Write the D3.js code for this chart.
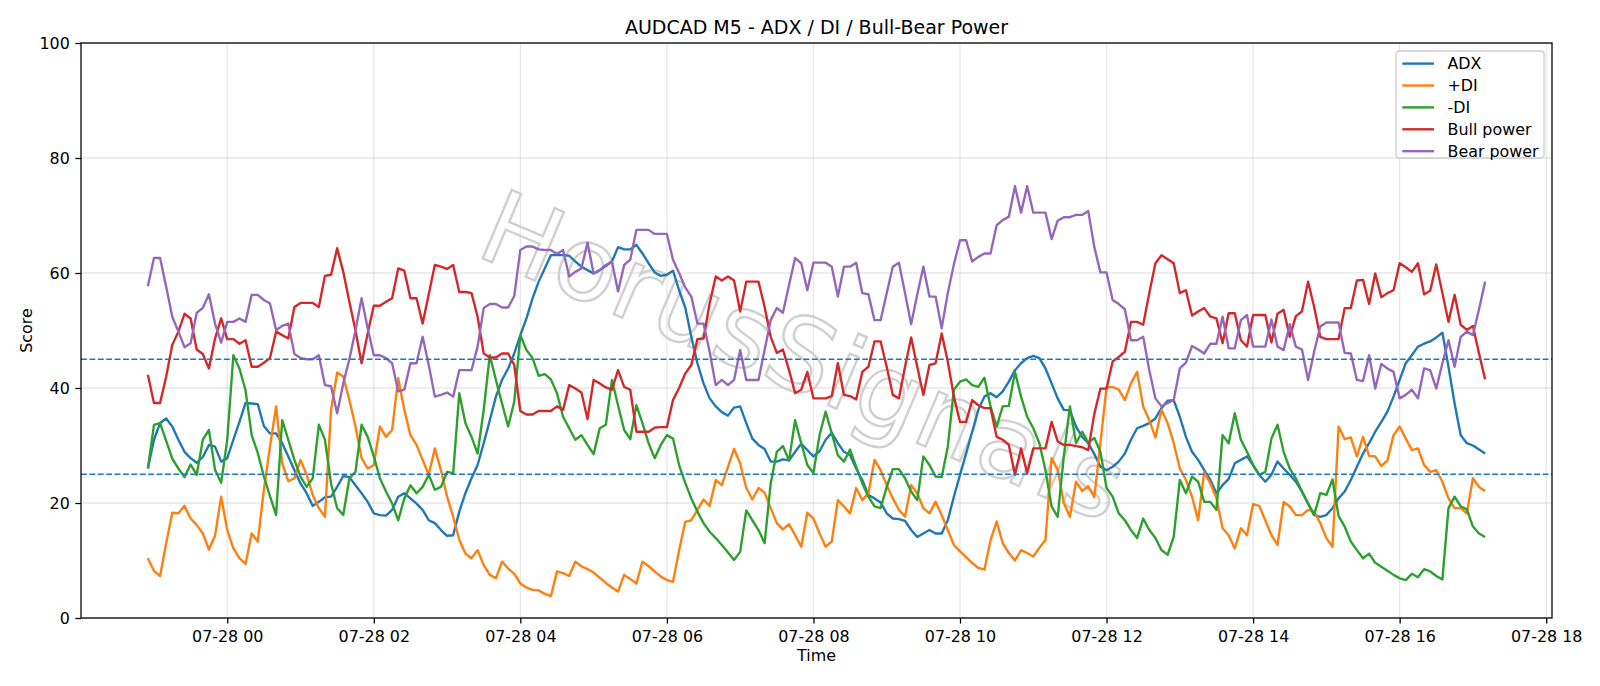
<!DOCTYPE html>
<html>
<head>
<meta charset="utf-8">
<script src="https://cdn.jsdelivr.net/npm/d3@7"></script>
<style>
  body { margin: 0; background: #fff; }
  svg { display: block; font-family: "DejaVu Sans", sans-serif; }
</style>
</head>
<body>
<div id="grafIndicadores"></div>
<script>
// datos (velas M5)
const inicio = "2025-07-27 22:55";
const pasoMinutos = 5;

const adx = [
  26.0, 31.0, 33.9, 34.7, 33.3, 31.0, 28.9, 27.8, 27.0, 28.0, 30.1, 29.8, 27.2, 27.8, 31.0, 34.1, 37.4, 37.3, 37.2, 33.4, 32.1, 32.1,
  30.4, 28.1, 25.7, 23.4, 21.7, 19.5, 20.2, 21.0, 21.1, 22.8, 24.7, 24.5, 23.1, 21.7, 20.2, 18.2, 17.9, 17.8, 18.8, 21.1, 21.7, 20.8,
  19.9, 18.8, 17.0, 16.5, 15.3, 14.3, 14.4, 18.5, 21.7, 24.3, 26.6, 30.4, 34.4, 38.5, 41.4, 43.4, 46.0, 49.2, 52.1, 55.6, 58.5, 60.8, 63.1,
  63.1, 63.1, 63.0, 62.0, 61.1, 60.5, 59.9, 60.5, 61.2, 62.0, 64.5, 64.1, 64.1, 64.9, 63.4, 61.7, 60.1, 59.5, 59.7, 60.4, 57.0, 54.0,
  48.9, 44.3, 40.8, 38.2, 36.8, 35.8, 35.2, 36.6, 36.8, 33.9, 31.2, 30.1, 29.4, 27.2, 27.2, 27.6, 27.4, 28.9, 30.3, 29.2, 28.1, 29.0,
  31.0, 32.2, 30.4, 28.9, 28.3, 26.0, 24.0, 21.4, 20.8, 20.1, 18.2, 17.3, 17.2, 16.9, 15.3, 14.1, 14.7, 15.3, 14.7, 14.7, 17.0, 21.1,
  24.9, 28.6, 32.4, 36.2, 38.5, 39.1, 38.4, 39.4, 41.1, 43.1, 44.3, 45.2, 45.6, 45.2, 43.4, 40.8, 38.2, 36.2, 36.1, 33.3, 31.5, 30.4, 28.5,
  26.3, 25.7, 26.3, 27.2, 28.6, 31.0, 33.0, 33.4, 33.9, 34.7, 36.5, 37.8, 37.9, 35.0, 31.5, 28.9, 27.5, 25.7, 24.0, 21.7, 23.1, 24.2,
  26.9, 27.5, 28.1, 26.6, 24.9, 23.7, 24.9, 27.2, 26.0, 24.9, 23.7, 22.0, 19.9, 17.9, 17.6, 17.9, 19.1, 20.8, 22.0, 24.0, 26.3, 28.6,
  30.4, 32.4, 34.1, 35.9, 38.5, 41.4, 44.3, 45.7, 47.2, 47.7, 48.1, 48.8, 49.6, 43.7, 37.3, 31.8, 30.4, 30.0, 29.3, 28.6
];

const diPlus = [
  10.4, 8.2, 7.3, 13.0, 18.3, 18.2, 19.5, 17.3, 16.2, 14.7, 11.9, 14.3, 21.1, 15.3, 12.1, 10.4, 9.4, 14.7, 13.3, 22.3, 29.8, 36.8,
  26.9, 23.8, 24.3, 27.5, 24.9, 21.4, 19.1, 17.6, 36.2, 42.7, 42.0, 37.9, 33.3, 27.8, 26.0, 26.6, 33.3, 31.5, 32.7, 41.7, 36.2, 31.8,
  30.1, 27.5, 24.9, 29.5, 25.7, 21.1, 17.6, 13.6, 11.2, 10.4, 11.8, 9.2, 7.5, 6.9, 9.8, 8.6, 7.7, 6.0, 5.3, 4.9, 4.8, 4.2, 3.8,
  8.1, 7.8, 7.3, 9.8, 9.0, 8.5, 7.9, 7.0, 6.1, 5.3, 4.6, 7.5, 6.8, 6.0, 9.8, 9.0, 8.1, 7.2, 6.6, 6.3, 11.8, 16.7,
  17.0, 18.8, 20.6, 19.5, 24.0, 23.1, 26.3, 29.4, 26.9, 22.6, 20.6, 22.6, 21.8, 19.1, 16.5, 15.4, 16.3, 14.4, 12.4, 18.3, 17.3, 14.7,
  12.4, 13.3, 20.5, 19.4, 18.2, 22.6, 20.5, 21.7, 27.5, 25.7, 23.1, 20.8, 18.8, 17.6, 23.1, 21.7, 19.1, 18.2, 20.2, 17.9, 15.3, 12.7,
  11.6, 10.6, 9.6, 8.7, 8.4, 13.5, 16.8, 13.0, 11.3, 10.0, 11.8, 11.3, 10.7, 12.2, 13.6, 27.8, 25.8, 20.0, 17.6, 23.7, 22.1, 22.9, 21.0,
  30.5, 40.1, 40.2, 39.7, 37.9, 40.8, 42.8, 36.8, 34.4, 31.4, 36.2, 33.9, 30.4, 26.0, 24.0, 21.1, 17.0, 25.4, 23.4, 20.8, 15.6, 14.4,
  12.1, 15.6, 14.4, 19.8, 19.5, 17.0, 14.4, 12.7, 20.2, 19.4, 17.9, 17.9, 18.8, 18.5, 16.5, 13.9, 12.4, 33.3, 31.1, 31.4, 28.1, 31.5,
  28.2, 28.1, 26.4, 27.4, 31.8, 33.3, 31.2, 29.2, 29.5, 26.6, 25.4, 25.7, 23.7, 20.8, 19.1, 19.1, 18.2, 24.3, 22.8, 22.1
];

const diMinus = [
  26.0, 33.6, 33.9, 30.8, 27.7, 26.0, 24.5, 26.7, 24.9, 31.0, 32.7, 25.8, 23.5, 31.0, 45.7, 43.4, 39.6, 31.8, 28.7, 24.6, 21.2, 17.9,
  34.4, 31.0, 27.5, 24.6, 22.8, 24.3, 33.6, 31.0, 23.4, 19.1, 17.9, 24.3, 25.4, 33.6, 31.5, 28.1, 24.3, 22.0, 19.9, 17.0, 20.8, 23.1,
  21.7, 22.8, 24.9, 22.3, 22.8, 25.4, 25.2, 39.1, 33.9, 31.5, 28.6, 36.2, 45.7, 41.4, 37.3, 33.3, 37.6, 49.2, 46.6, 45.2, 42.1, 42.4, 41.5,
  39.1, 35.0, 33.0, 31.0, 31.8, 30.1, 28.5, 33.0, 33.6, 41.4, 37.0, 32.7, 31.1, 37.0, 33.9, 30.4, 27.8, 30.1, 31.8, 31.2, 26.6, 23.5,
  20.8, 18.5, 16.5, 15.0, 13.9, 12.7, 11.4, 10.1, 11.5, 18.7, 17.0, 15.3, 13.0, 23.4, 28.9, 29.9, 27.4, 34.4, 30.4, 26.6, 25.2, 31.8,
  35.9, 32.1, 28.3, 27.2, 29.3, 26.3, 23.4, 21.1, 19.4, 19.1, 22.8, 25.9, 25.9, 24.3, 22.0, 20.5, 28.1, 26.6, 24.6, 24.5, 29.8, 39.7,
  41.1, 41.5, 40.5, 40.2, 41.8, 36.8, 33.3, 36.8, 36.9, 42.8, 38.5, 35.0, 33.0, 30.4, 25.7, 19.4, 17.6, 28.1, 36.8, 30.4, 32.4, 30.5, 31.3,
  28.9, 22.6, 21.1, 18.2, 17.0, 15.3, 13.9, 17.3, 15.3, 13.9, 11.8, 11.0, 14.1, 24.0, 21.7, 24.6, 23.7, 20.2, 20.2, 18.8, 31.8, 30.4,
  35.6, 31.0, 28.9, 26.6, 24.9, 25.4, 31.2, 33.6, 28.9, 26.0, 24.3, 22.0, 19.9, 17.9, 21.7, 21.4, 24.1, 17.7, 15.9, 13.3, 11.8, 10.4,
  11.2, 9.6, 8.9, 8.2, 7.5, 6.9, 6.6, 7.7, 7.1, 8.5, 8.1, 7.3, 6.7, 19.1, 21.1, 19.4, 18.9, 15.9, 14.7, 14.1
];

const bullPower = [
  42.3, 37.4, 37.4, 42.0, 47.5, 49.8, 52.9, 52.1, 46.7, 45.9, 43.4, 48.6, 52.1, 48.5, 48.5, 47.7, 48.3, 43.7, 43.7, 44.4, 45.2, 49.8,
  49.2, 48.6, 54.1, 54.8, 54.8, 54.8, 54.1, 59.5, 59.7, 64.3, 60.2, 55.0, 50.0, 44.3, 49.5, 54.3, 54.3, 55.0, 55.6, 60.8, 60.4, 55.6,
  55.6, 51.2, 56.3, 61.4, 61.1, 60.7, 61.4, 56.7, 56.7, 56.5, 52.4, 46.0, 45.3, 45.3, 46.0, 46.0, 44.0, 36.0, 35.4, 35.4, 36.0, 36.0, 36.0,
  36.8, 36.2, 40.5, 39.9, 39.2, 34.6, 41.4, 40.8, 40.1, 39.7, 43.1, 40.2, 39.7, 32.4, 32.4, 32.4, 33.1, 33.2, 33.2, 37.9, 40.0, 42.5,
  44.0, 48.5, 48.6, 54.7, 59.4, 58.7, 59.4, 58.7, 53.3, 58.5, 58.5, 58.5, 54.1, 48.9, 46.1, 46.7, 43.1, 39.1, 39.7, 42.8, 38.2, 38.2,
  38.2, 38.6, 44.3, 38.8, 38.6, 38.0, 42.8, 43.7, 48.1, 48.1, 43.7, 38.8, 38.2, 43.7, 48.8, 43.7, 38.8, 44.0, 44.3, 49.5, 44.6, 38.5,
  34.1, 34.1, 37.9, 37.0, 36.5, 36.5, 31.5, 31.0, 30.1, 24.9, 29.5, 25.2, 29.5, 29.5, 29.5, 34.1, 30.7, 30.1, 30.1, 29.9, 29.7, 29.2, 35.5,
  39.9, 39.9, 44.6, 45.4, 46.3, 51.5, 51.5, 51.0, 56.5, 61.7, 63.1, 62.4, 61.7, 56.5, 57.0, 52.6, 53.3, 53.9, 52.4, 52.1, 47.8, 53.0,
  53.0, 48.3, 47.2, 52.7, 52.7, 52.7, 47.9, 52.9, 53.6, 48.9, 52.5, 53.3, 58.5, 54.1, 48.9, 48.5, 48.5, 48.5, 53.9, 53.9, 58.7, 58.8,
  54.6, 59.9, 55.8, 56.5, 57.0, 61.7, 61.0, 60.2, 61.7, 56.3, 56.9, 61.5, 56.5, 51.5, 56.2, 51.0, 50.1, 50.8, 46.0, 41.5
];

const bearPower = [
  57.7, 62.6, 62.6, 57.6, 52.4, 49.8, 47.1, 47.8, 53.1, 53.9, 56.3, 51.2, 47.9, 51.5, 51.5, 52.1, 51.5, 56.2, 56.2, 55.3, 54.7, 50.1,
  50.8, 51.2, 45.9, 45.2, 45.0, 45.0, 45.7, 40.5, 40.3, 35.6, 40.8, 45.0, 50.0, 55.6, 50.4, 45.7, 45.7, 45.2, 44.3, 39.4, 39.7, 44.3,
  44.3, 48.9, 44.0, 38.5, 38.8, 39.2, 38.5, 43.1, 43.1, 43.1, 47.2, 53.9, 54.6, 54.6, 54.0, 54.0, 56.0, 64.0, 64.6, 64.6, 64.1, 64.0, 64.0,
  63.3, 64.0, 59.4, 60.2, 60.8, 65.3, 59.9, 60.5, 61.4, 62.0, 56.8, 61.4, 62.3, 67.5, 67.5, 67.5, 66.8, 66.8, 66.8, 62.3, 60.0, 57.5,
  55.9, 51.2, 51.2, 46.3, 40.5, 41.4, 40.5, 41.4, 46.6, 41.4, 41.4, 41.4, 46.6, 51.8, 53.9, 53.1, 57.9, 62.6, 61.7, 57.0, 61.8, 61.8,
  61.8, 61.1, 55.9, 61.1, 61.1, 61.8, 56.5, 56.3, 51.8, 51.8, 56.5, 61.1, 61.8, 56.5, 51.1, 56.2, 61.1, 55.9, 55.9, 50.4, 56.5, 61.5,
  65.7, 65.7, 62.0, 62.8, 63.4, 63.4, 68.3, 69.2, 69.8, 75.1, 70.5, 75.1, 70.5, 70.5, 70.5, 65.9, 69.1, 69.7, 69.7, 70.1, 70.1, 70.8, 64.5,
  60.1, 60.1, 55.3, 54.6, 53.7, 48.3, 48.3, 48.9, 43.1, 38.2, 36.8, 37.4, 37.9, 43.4, 44.4, 47.3, 46.7, 46.0, 47.7, 47.7, 52.4, 46.9,
  46.9, 51.8, 52.7, 47.2, 47.2, 47.2, 51.9, 47.2, 46.6, 51.1, 47.2, 46.7, 41.4, 46.3, 50.7, 51.4, 51.4, 51.4, 46.1, 46.0, 41.4, 41.2,
  45.7, 39.9, 44.2, 43.4, 42.8, 38.2, 38.8, 39.7, 38.2, 43.4, 43.1, 39.9, 44.3, 48.3, 43.7, 48.9, 49.8, 49.2, 53.7, 58.5
];

const nombresSeries = ["ADX", "+DI", "-DI", "Bull power", "Bear power"];
const coloresSeries = ["#1f77b4", "#ff7f0e", "#2ca02c", "#d62728", "#9467bd"];
const valoresSeries = [adx, diPlus, diMinus, bullPower, bearPower];
const nivelesRef = [25, 45];
const yTicks = [0, 20, 40, 60, 80, 100];
const titulo = "AUDCAD M5 - ADX / DI / Bull-Bear Power";
const marcaAgua = "HorusSignals";

// dimensiones (figura tipo matplotlib)
const totalWidth = 1600;
const totalHeight = 686;
const margins = { top: 43, right: 48, bottom: 68, left: 81 };
const width = totalWidth - margins.left - margins.right;
const height = totalHeight - margins.top - margins.bottom;
const fs = 15.9;

const svg = d3.select("#grafIndicadores")
  .append("svg")
  .attr("width", totalWidth)
  .attr("height", totalHeight);

const g = svg.append("g")
  .attr("transform", `translate(${margins.left}, ${margins.top})`);

// eje de tiempo
const t0 = d3.timeParse("%Y-%m-%d %H:%M")(inicio);
const tiempos = adx.map((d, i) => d3.timeMinute.offset(t0, i * pasoMinutos));
const tFin = tiempos[tiempos.length - 1];
const holgura = (tFin - t0) * 0.05;

const x = d3.scaleTime()
  .domain([new Date(+t0 - holgura), new Date(+tFin + holgura)])
  .range([0, width]);
const y = d3.scaleLinear().domain([0, 100]).range([height, 0]);

const xTicks = d3.timeHour.every(2).range(d3.timeDay.ceil(t0), d3.timeHour.offset(d3.timeDay.ceil(t0), 19));

// rejilla
g.append("g").selectAll("line").data(xTicks).join("line")
  .attr("x1", d => x(d)).attr("x2", d => x(d))
  .attr("y1", 0).attr("y2", height)
  .attr("stroke", "#b0b0b0").attr("stroke-opacity", 0.3).attr("stroke-width", 1.27);
g.append("g").selectAll("line").data(yTicks).join("line")
  .attr("x1", 0).attr("x2", width)
  .attr("y1", d => y(d)).attr("y2", d => y(d))
  .attr("stroke", "#b0b0b0").attr("stroke-opacity", 0.3).attr("stroke-width", 1.27);

svg.append("clipPath").attr("id", "recorte")
  .append("rect").attr("width", width).attr("height", height);

const plot = g.append("g").attr("clip-path", "url(#recorte)");

// marca de agua
plot.append("text")
  .attr("transform", `translate(${width * 0.492}, ${height * 0.545}) rotate(23)`)
  .attr("text-anchor", "middle")
  .attr("dy", "0.35em")
  .attr("font-size", 102)
  .attr("letter-spacing", 2)
  .attr("fill", "none")
  .attr("stroke", "#d0d0d0")
  .attr("stroke-width", 2.4)
  .text(marcaAgua);

// lineas de cada serie
const linea = d3.line()
  .x((d, i) => x(tiempos[i]))
  .y(d => y(d));

valoresSeries.forEach((vals, k) => {
  plot.append("path")
    .datum(vals)
    .attr("fill", "none")
    .attr("stroke", coloresSeries[k])
    .attr("stroke-width", 2.38)
    .attr("stroke-linejoin", "round")
    .attr("d", linea);
});

// niveles de referencia
plot.selectAll(".nivel").data(nivelesRef).join("line")
  .attr("class", "nivel")
  .attr("x1", 0).attr("x2", width)
  .attr("y1", d => y(d)).attr("y2", d => y(d))
  .attr("stroke", "#1f77b4")
  .attr("stroke-width", 1.59)
  .attr("stroke-dasharray", "5.9,2.5");

// ejes
const xAxis = g.append("g")
  .attr("transform", `translate(0, ${height})`)
  .call(d3.axisBottom(x).tickValues(xTicks).tickFormat(d3.timeFormat("%m-%d %H")).tickSize(5.6).tickPadding(5.6).tickSizeOuter(0));
const yAxis = g.append("g")
  .call(d3.axisLeft(y).tickValues(yTicks).tickSize(5.6).tickPadding(5.6).tickSizeOuter(0));

[xAxis, yAxis].forEach(a => {
  a.select(".domain").remove();
  a.selectAll(".tick line").attr("stroke", "#000").attr("stroke-width", 1.27);
  a.selectAll(".tick text")
    .attr("fill", "#000")
    .attr("font-family", "DejaVu Sans")
    .attr("font-size", fs);
});
xAxis.selectAll(".tick text").attr("dy", "0.78em");

// marco
g.append("rect")
  .attr("width", width).attr("height", height)
  .attr("fill", "none").attr("stroke", "#000").attr("stroke-width", 1.27);

// textos
svg.append("text")
  .attr("x", margins.left + width / 2).attr("y", 33.5)
  .attr("text-anchor", "middle").attr("font-size", 19)
  .text(titulo);
svg.append("text")
  .attr("x", margins.left + width / 2).attr("y", 661)
  .attr("text-anchor", "middle").attr("font-size", fs)
  .text("Time");
svg.append("text")
  .attr("transform", `translate(31.5, ${margins.top + height / 2}) rotate(-90)`)
  .attr("text-anchor", "middle").attr("font-size", fs)
  .text("Score");

// leyenda
const leyenda = svg.append("g").attr("transform", "translate(1396, 51)");
leyenda.append("rect")
  .attr("width", 148).attr("height", 107).attr("rx", 3.2)
  .attr("fill", "#fff").attr("fill-opacity", 0.8)
  .attr("stroke", "#cccccc").attr("stroke-width", 1.27);

const items = leyenda.selectAll(".item").data(nombresSeries).join("g")
  .attr("class", "item")
  .attr("transform", (d, i) => `translate(0, ${12.6 + i * 21.9})`);
items.append("line")
  .attr("x1", 6.3).attr("x2", 38)
  .attr("stroke", (d, i) => coloresSeries[i])
  .attr("stroke-width", 2.38);
items.append("text")
  .attr("x", 51.5).attr("dy", "0.36em")
  .attr("font-size", fs)
  .text(d => d);
</script>
</body>
</html>
